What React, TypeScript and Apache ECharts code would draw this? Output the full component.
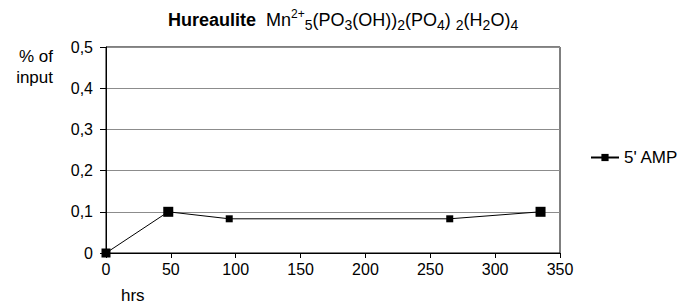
import React, { useEffect, useRef } from "react";
import * as echarts from "echarts";

const hours = [0, 48, 95, 265, 335];
const amp5 = [0, 0.1, 0.083, 0.083, 0.1];
const markerSizes = [9, 10, 7, 7, 10];
const seriesName = "5' AMP";
const yTicks = [0, 0.1, 0.2, 0.3, 0.4, 0.5];
const yTickLabels = ["0", "0,1", "0,2", "0,3", "0,4", "0,5"];
const xTicks = [0, 50, 100, 150, 200, 250, 300, 350];

const FONT = "'Liberation Sans', Arial, sans-serif";

export default function App() {
  const ref = useRef<HTMLDivElement>(null);
  useEffect(() => {
    if (!ref.current) return;
    const chart = echarts.init(ref.current, null, { renderer: "svg" });
    chart.setOption({
      animation: false,
      textStyle: { fontFamily: FONT },
      title: {
        left: 163,
        top: 3,
        text:
          "{b|Hureaulite}{n|  Mn}{sup|2+}{sub|5}{n|(PO}{sub|3}{n|(OH))}{sub|2}{n|(PO}{sub|4}{n|) }{sub|2}{n|(H}{sub|2}{n|O)}{sub|4}",
        textStyle: {
          fontWeight: "normal",
          rich: {
            b: { fontFamily: FONT, fontWeight: "bold", fontSize: 18, color: "#000", lineHeight: 24, verticalAlign: "middle" },
            n: { fontFamily: FONT, fontWeight: "normal", fontSize: 18, color: "#000", lineHeight: 24, verticalAlign: "middle" },
            sub: { fontFamily: FONT, fontWeight: "normal", fontSize: 14, color: "#000", lineHeight: 12, verticalAlign: "bottom" },
            sup: { fontFamily: FONT, fontWeight: "normal", fontSize: 12, color: "#000", lineHeight: 14, verticalAlign: "top" },
          },
        },
      },
      legend: {
        orient: "vertical",
        left: 585,
        top: 144,
        itemWidth: 28,
        itemHeight: 9,
        itemGap: 6,
        textStyle: { fontFamily: FONT, fontSize: 17, color: "#000" },
        data: [seriesName],
      },
      graphic: [
        {
          type: "text",
          x: 53,
          y: 46,
          style: {
            text: "% of\ninput",
            font: `17px ${FONT}`,
            fill: "#000",
            align: "right",
            verticalAlign: "top",
            lineHeight: 21,
          },
        },
        {
          type: "text",
          x: 121,
          y: 287,
          style: { text: "hrs", font: `17px ${FONT}`, fill: "#000", verticalAlign: "top" },
        },
      ],
      grid: {
        left: 106,
        right: 121,
        top: 47,
        bottom: 51,
        show: true,
        borderColor: "#000",
        borderWidth: 1,
        backgroundColor: "transparent",
      },
      xAxis: {
        type: "value",
        min: xTicks[0],
        max: xTicks[xTicks.length - 1],
        interval: 50,
        axisLine: { show: true, lineStyle: { color: "#000", width: 1 } },
        axisTick: { show: true, inside: false, length: 5, lineStyle: { color: "#000" } },
        axisLabel: { color: "#000", fontSize: 16, fontFamily: FONT, margin: 8 },
        splitLine: { show: false },
      },
      yAxis: {
        type: "value",
        min: yTicks[0],
        max: yTicks[yTicks.length - 1],
        interval: 0.1,
        axisLine: { show: true, lineStyle: { color: "#000", width: 1 } },
        axisTick: { show: true, inside: false, length: 6, lineStyle: { color: "#000" } },
        axisLabel: {
          color: "#000",
          fontSize: 16,
          fontFamily: FONT,
          margin: 13,
          formatter: (v: number) => {
            const i = yTicks.findIndex((t) => Math.abs(t - v) < 1e-9);
            return i >= 0 ? yTickLabels[i] : String(v);
          },
        },
        splitLine: { show: true, lineStyle: { color: "#8c8c8c", width: 1 } },
      },
      series: [
        {
          name: seriesName,
          type: "line",
          data: hours.map((h, i) => ({ value: [h, amp5[i]], symbolSize: markerSizes[i] })),
          symbol: "rect",
          showSymbol: true,
          lineStyle: { color: "#000", width: 1 },
          itemStyle: { color: "#000" },
          color: "#000",
          clip: false,
        },
      ],
    });
    return () => chart.dispose();
  }, []);
  return (
    <div
      ref={ref}
      style={{ position: "fixed", left: 0, top: 0, width: 681, height: 304, background: "#fff" }}
    />
  );
}
